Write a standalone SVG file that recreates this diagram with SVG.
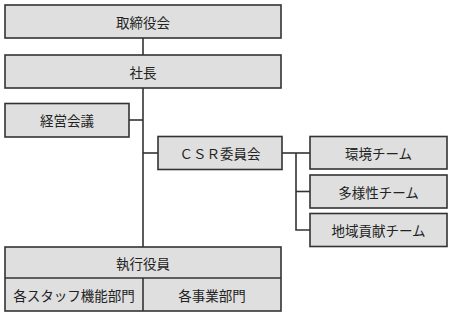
<svg xmlns="http://www.w3.org/2000/svg" width="453" height="316" viewBox="0 0 453 316">
<style>
.box{fill:#dfdfdf;stroke:#333;stroke-width:1.6}
.ln{fill:none;stroke:#333;stroke-width:1.6}
text{font-family:"Noto Sans CJK JP","Noto Sans",sans-serif;font-size:13.5px;fill:#222;text-anchor:middle;dominant-baseline:central}
</style>
<rect width="453" height="316" fill="#fff"/>
<g id="connectors">
<line class="ln" x1="143" y1="38" x2="143" y2="55"/>
<line class="ln" x1="143" y1="88" x2="143" y2="247"/>
<line class="ln" x1="129" y1="120" x2="143" y2="120"/>
<line class="ln" x1="143" y1="153" x2="158" y2="153"/>
<line class="ln" x1="282" y1="153" x2="310" y2="153"/>
<polyline class="ln" points="296,153 296,230 310,230"/>
<line class="ln" x1="296" y1="191.5" x2="310" y2="191.5"/>
</g>
<g id="board"><rect class="box" x="5" y="5" width="276" height="33"/><text x="143" y="21.5">取締役会</text></g>
<g id="president"><rect class="box" x="5" y="55" width="276" height="33"/><text x="143" y="71.5">社長</text></g>
<g id="mgmt"><rect class="box" x="5" y="103.5" width="124" height="33.5"/><text x="67" y="120">経営会議</text></g>
<g id="csr"><rect class="box" x="158" y="136.5" width="124" height="33"/><text x="220" y="153">ＣＳＲ委員会</text></g>
<g id="env"><rect class="box" x="310" y="136.5" width="137" height="32.5"/><text x="378.5" y="153">環境チーム</text></g>
<g id="diversity"><rect class="box" x="310" y="175" width="137" height="33"/><text x="378.5" y="191.5">多様性チーム</text></g>
<g id="community"><rect class="box" x="310" y="213.5" width="137" height="33"/><text x="378.5" y="230">地域貢献チーム</text></g>
<g id="exec">
<rect class="box" x="5" y="247" width="276" height="64"/>
<line class="ln" x1="5" y1="278" x2="281" y2="278"/>
<line class="ln" x1="143" y1="278" x2="143" y2="311"/>
<text x="143" y="262.5">執行役員</text>
<text x="74" y="294.5">各スタッフ機能部門</text>
<text x="212" y="294.5">各事業部門</text>
</g>
</svg>
